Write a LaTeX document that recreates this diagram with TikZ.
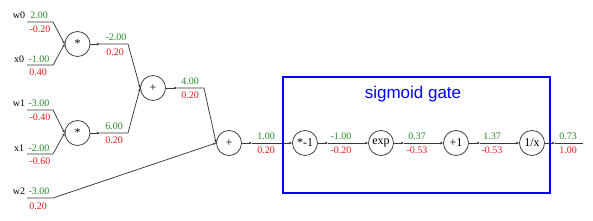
\documentclass[tikz,border=0pt]{standalone}
\usepackage{fontspec}
\setmainfont{Liberation Serif}
\newfontfamily\titlefont{Liberation Sans}
\usetikzlibrary{arrows.meta}
\definecolor{fgreen}{RGB}{40,140,40}
\definecolor{bred}{RGB}{225,30,30}
\definecolor{wirec}{RGB}{55,55,55}
\begin{document}
\begin{tikzpicture}[x=1pt,y=-1pt,
  gate/.style={circle, draw=wirec, line width=0.75pt, minimum size=25pt, inner sep=0pt, font=\fontsize{12}{12}\selectfont},
  fwd/.style={text=fgreen, inner sep=0pt, font=\fontsize{10}{10}\selectfont},
  bwd/.style={text=bred, inner sep=0pt, font=\fontsize{10}{10}\selectfont},
  inlab/.style={text=black, inner sep=0pt, font=\fontsize{10}{10}\selectfont},
  wire/.style={draw=wirec, line width=0.75pt},
  tipped/.style={-{Stealth[length=3.2pt,width=2.6pt]}}
]
\useasboundingbox (0,0) rectangle (593,220);

% gates
\node[gate] (mul1) at (77.5,44) {*};
\node[gate] (mul2) at (77.5,133) {*};
\node[gate] (add1) at (153,88) {+};
\node[gate] (add2) at (229,143) {+};
\node[gate] (neg) at (305,143) {*-1};
\node[gate] (expg) at (381,143) {exp};
\node[gate] (plus1) at (456,143) {+1};
\node[gate] (inv) at (532,143) {1/x};

% input coordinates
\coordinate (w0s) at (27,22);  \coordinate (w0b) at (53,22);
\coordinate (x0s) at (27,65);  \coordinate (x0b) at (53,65);
\coordinate (w1s) at (27,110); \coordinate (w1b) at (53,110);
\coordinate (x1s) at (27,154); \coordinate (x1b) at (53,154);
\coordinate (w2s) at (27,198); \coordinate (w2b) at (53,198);

\draw[wire,tipped] (w0s) -- (w0b) -- (mul1.west);
\draw[wire,tipped] (x0s) -- (x0b) -- (mul1.west);
\draw[wire,tipped] (w1s) -- (w1b) -- (mul2.west);
\draw[wire,tipped] (x1s) -- (x1b) -- (mul2.west);
\draw[wire,tipped] (w2s) -- (w2b) -- (add2.west);

% input labels
\node[inlab] (lw0) at (19,15) {w0};
\node[fwd] (fw0) at (39,15) {2.00};
\node[bwd] (bw0) at (40,29) {-0.20};
\node[inlab] (lx0) at (19,59) {x0};
\node[fwd] (fx0) at (39,59) {-1.00};
\node[bwd] (bx0) at (38,72) {0.40};
\node[inlab] (lw1) at (19,103) {w1};
\node[fwd] (fw1) at (39,103) {-3.00};
\node[bwd] (bw1) at (40,117) {-0.40};
\node[inlab] (lx1) at (19,148) {x1};
\node[fwd] (fx1) at (39,148) {-2.00};
\node[bwd] (bx1) at (40,161) {-0.60};
\node[inlab] (lw2) at (19,191) {w2};
\node[fwd] (fw2) at (39,191) {-3.00};
\node[bwd] (bw2) at (38,206) {0.20};

% mul1 -> add1
\coordinate (m1t) at (100,44); \coordinate (m1b) at (128,44);
\draw[wire,tipped] (mul1.east) -- (m1t);
\draw[wire,tipped] (m1t) -- (m1b) -- (add1.west);
\node[fwd] (fm1) at (116,37) {-2.00};
\node[bwd] (bm1) at (115,52) {0.20};

% mul2 -> add1
\coordinate (m2t) at (100,133); \coordinate (m2b) at (128,133);
\draw[wire,tipped] (mul2.east) -- (m2t);
\draw[wire,tipped] (m2t) -- (m2b) -- (add1.west);
\node[fwd] (fm2) at (114,126) {6.00};
\node[bwd] (bm2) at (114,140) {0.20};

% add1 -> add2
\coordinate (a1t) at (177,88); \coordinate (a1b) at (204,88);
\draw[wire,tipped] (add1.east) -- (a1t);
\draw[wire,tipped] (a1t) -- (a1b) -- (add2.west);
\node[fwd] (fa1) at (190,81) {4.00};
\node[bwd] (ba1) at (190,95) {0.20};

% add2 -> neg
\coordinate (a2t) at (252,143);
\draw[wire,tipped] (add2.east) -- (a2t);
\draw[wire,tipped] (a2t) -- (neg.west);
\node[fwd] (fa2) at (266,136) {1.00};
\node[bwd] (ba2) at (266,150.5) {0.20};

% neg -> exp
\coordinate (nt) at (328,143);
\draw[wire,tipped] (neg.east) -- (nt);
\draw[wire,tipped] (nt) -- (expg.west);
\node[fwd] (fn) at (341,136) {-1.00};
\node[bwd] (bn) at (341,150.5) {-0.20};

% exp -> plus1
\coordinate (et) at (404,143);
\draw[wire,tipped] (expg.east) -- (et);
\draw[wire,tipped] (et) -- (plus1.west);
\node[fwd] (fe) at (417,136) {0.37};
\node[bwd] (be) at (417,150.5) {-0.53};

% plus1 -> inv
\coordinate (pt) at (480,143);
\draw[wire,tipped] (plus1.east) -- (pt);
\draw[wire,tipped] (pt) -- (inv.west);
\node[fwd] (fp) at (492,136) {1.37};
\node[bwd] (bp) at (492,150.5) {-0.53};

% inv -> out
\coordinate (it) at (555,143); \coordinate (outp) at (583,143);
\draw[wire,tipped] (inv.east) -- (it);
\draw[wire] (it) -- (outp);
\node[fwd] (fi) at (568,136) {0.73};
\node[bwd] (bi) at (568,150.5) {1.00};

% sigmoid box
\draw[blue, line width=2pt] (283,77) rectangle (550,193);
\node[text=blue, inner sep=0pt, font=\titlefont\fontsize{17}{17}\selectfont] (title) at (413,94) {sigmoid gate};
\end{tikzpicture}
\end{document}
